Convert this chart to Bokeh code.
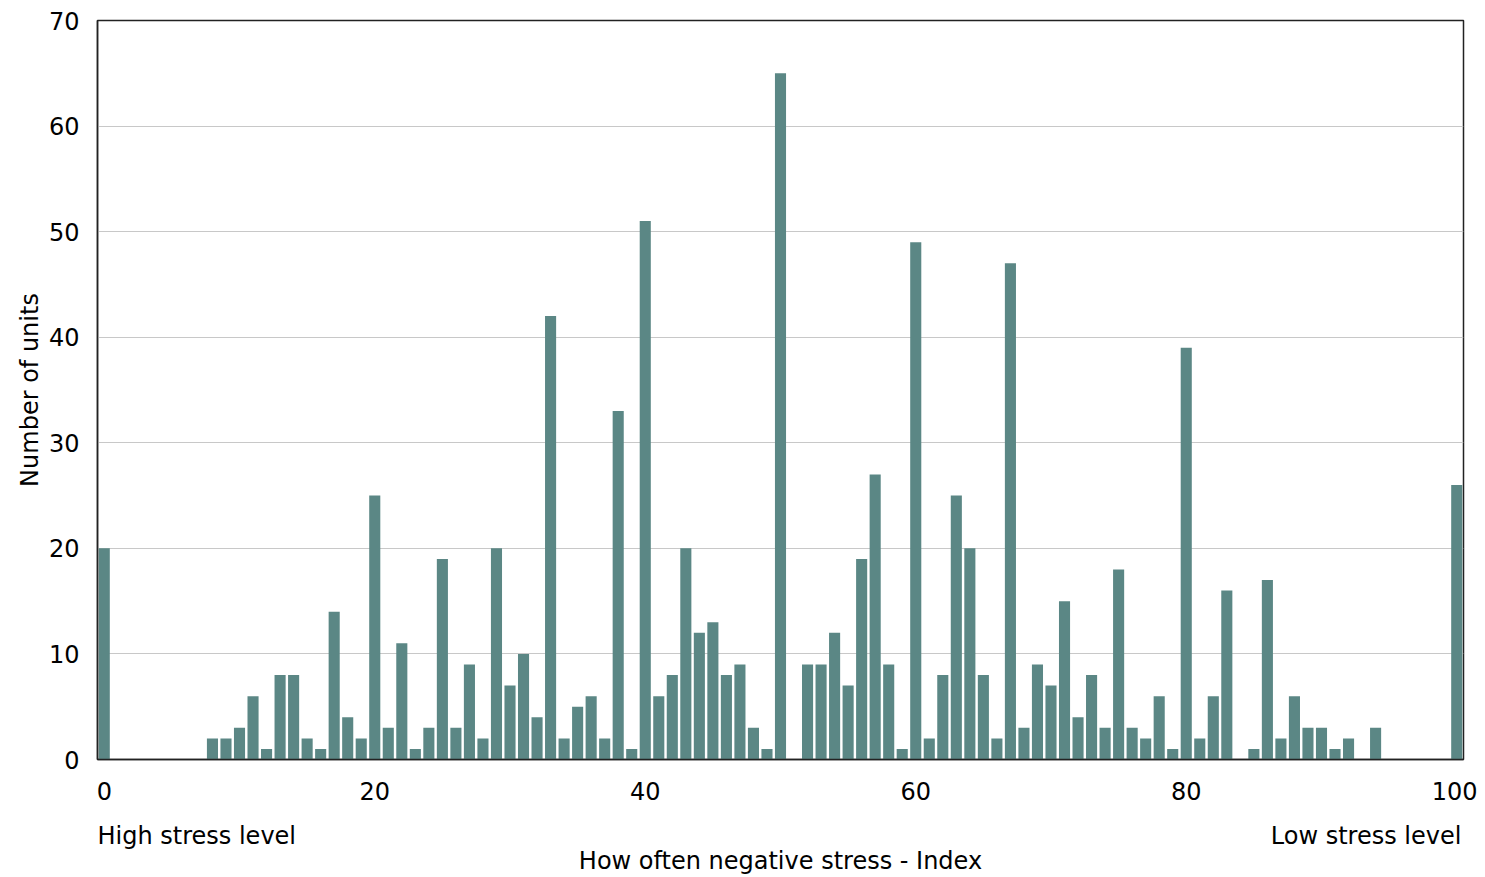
from bokeh.plotting import figure
from bokeh.models import Range1d, FixedTicker, LinearAxis
from bokeh.embed import file_html
from bokeh.resources import INLINE

index = list(range(0, 101))
units = [20, 0, 0, 0, 0, 0, 0, 0, 2, 2,
         3, 6, 1, 8, 8, 2, 1, 14, 4, 2,
         25, 3, 11, 1, 3, 19, 3, 9, 2, 20,
         7, 10, 4, 42, 2, 5, 6, 2, 33, 1,
         51, 6, 8, 20, 12, 13, 8, 9, 3, 1,
         65, 0, 9, 9, 12, 7, 19, 27, 9, 1,
         49, 2, 8, 25, 20, 8, 2, 47, 3, 9,
         7, 15, 4, 8, 3, 18, 3, 2, 6, 1,
         39, 2, 6, 16, 0, 1, 17, 2, 6, 3,
         3, 1, 2, 0, 3, 0, 0, 0, 0, 0,
         26]
x_ticks = [0, 20, 40, 60, 80, 100]
y_ticks = [0, 10, 20, 30, 40, 50, 60, 70]
y_title = "Number of units"
x_title = "How often negative stress - Index"
left_note = "High stress level"
right_note = "Low stress level"

FONT = "DejaVu Sans"
FS = "24px"

p = figure(width=1477, height=877, output_backend="svg", toolbar_location=None,
           x_range=Range1d(-0.5, 100.5), y_range=Range1d(0, 70),
           min_border_left=97, min_border_top=20, min_border_right=14, min_border_bottom=118)

p.vbar(x=index, top=units, width=0.82, color="#5B8785", line_color=None)

p.xgrid.grid_line_color = None
p.ygrid.grid_line_color = "#c8c8c8"
p.ygrid.ticker = FixedTicker(ticks=y_ticks)

p.outline_line_color = "#222222"
p.outline_line_width = 1.5

p.xaxis.ticker = FixedTicker(ticks=x_ticks)
p.yaxis.ticker = FixedTicker(ticks=y_ticks)
for ax in (p.xaxis[0], p.yaxis[0]):
    ax.axis_line_color = "#222222"
    ax.axis_line_width = 1.5
    ax.major_tick_line_color = None
    ax.minor_tick_line_color = None
    ax.major_label_text_font = FONT
    ax.major_label_text_font_size = FS
    ax.major_label_text_color = "#000000"
p.xaxis.major_label_standoff = 16
p.yaxis.major_label_standoff = 12

p.yaxis.axis_label = y_title
p.yaxis.axis_label_text_font = FONT
p.yaxis.axis_label_text_font_size = FS
p.yaxis.axis_label_text_font_style = "normal"
p.yaxis.axis_label_text_color = "#000000"
p.yaxis.axis_label_standoff = 2

# second axis carrying the end notes and the x title
note_pos = [6.84, 93.3]
ax2 = LinearAxis(ticker=FixedTicker(ticks=note_pos),
                 major_label_overrides={note_pos[0]: left_note, note_pos[1]: right_note},
                 axis_line_color=None, major_tick_line_color=None, minor_tick_line_color=None,
                 major_label_text_font=FONT, major_label_text_font_size=FS,
                 major_label_text_color="#000000", major_label_standoff=13,
                 axis_label=x_title, axis_label_text_font=FONT, axis_label_text_font_size=FS,
                 axis_label_text_font_style="normal", axis_label_text_color="#000000",
                 axis_label_standoff=-6)
p.add_layout(ax2, "below")

open("out.html", "w").write(file_html(p, INLINE))
